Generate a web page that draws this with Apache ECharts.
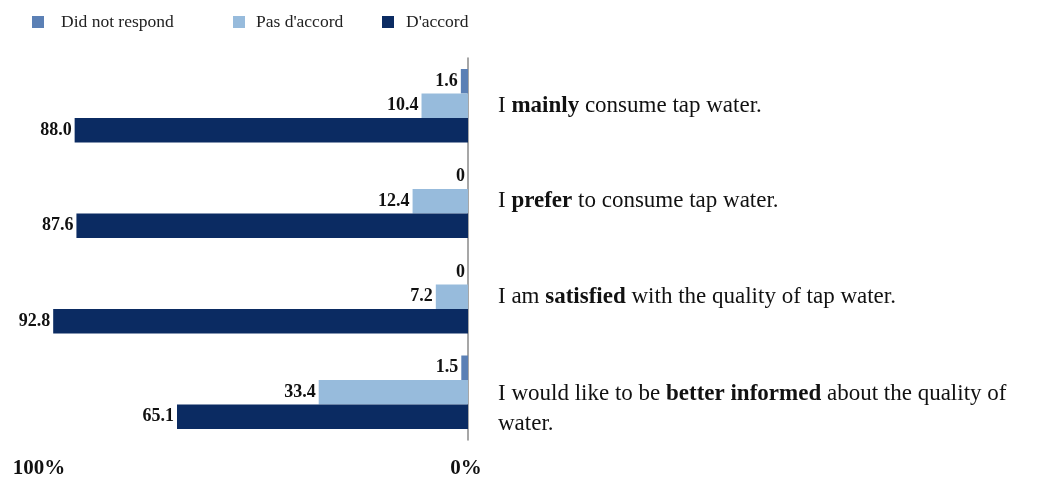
<!DOCTYPE html>
<html>
<head>
<meta charset="utf-8">
<script src="https://cdn.jsdelivr.net/npm/echarts@6/dist/echarts.min.js"></script>
<style>
  html, body { margin: 0; padding: 0; background: #ffffff; }
  #chart { width: 1044px; height: 491px; }
</style>
</head>
<body>
<div id="chart"></div>
<script>
// Survey statements, split into [before, bold keyword, after] segments
const statements = [
  ['I ', 'mainly', ' consume tap water.'],
  ['I ', 'prefer', ' to consume tap water.'],
  ['I am ', 'satisfied', ' with the quality of tap water.'],
  ['I would like to be ', 'better informed', ' about the quality of\nwater.']
];

// Share of answers, in percent
const didNotRespond = [1.6, 0, 0, 1.5];
const pasDaccord = [10.4, 12.4, 7.2, 33.4];
const daccord = [88.0, 87.6, 92.8, 65.1];

const seriesNames = ['Did not respond', "Pas d'accord", "D'accord"];
const axisTickLabels = { 0: '0%', 100: '100%' };

const FONT = '"Liberation Serif", "Times New Roman", serif';

function richStatement(parts) {
  const tail = parts[2].split('\n');
  let s = '{n|' + parts[0] + '}{b|' + parts[1] + '}{n|' + tail[0] + '}';
  for (let i = 1; i < tail.length; i++) s += '\n{n|' + tail[i] + '}';
  return s;
}

const categoryData = statements.map(function (p) {
  const multiLine = p[2].indexOf('\n') >= 0;
  const item = { value: richStatement(p) };
  if (multiLine) item.textStyle = { padding: [34, 0, 0, 0] };
  return item;
});

const valueLabel = {
  show: true,
  position: 'left',
  distance: 3,
  color: '#111',
  fontFamily: FONT,
  fontWeight: 'bold',
  fontSize: 18,
  formatter: function (p) { return p.value === 0 ? '0' : p.value.toFixed(1); }
};

function legendAt(left, name, padLeft, padTop) {
  return {
    left: left, top: 8,
    itemWidth: 12, itemHeight: 12,
    icon: 'rect',
    data: [name],
    selectedMode: false,
    textStyle: {
      fontFamily: FONT, fontSize: 17.5, color: '#222',
      padding: [padTop, 0, 0, padLeft]
    }
  };
}

const chart = echarts.init(document.getElementById('chart'), null, { renderer: 'canvas' });

chart.setOption({
  animation: false,
  backgroundColor: '#ffffff',
  legend: [
    legendAt(27, seriesNames[0], 12, 12),
    legendAt(228, seriesNames[1], 6, 0),
    legendAt(377, seriesNames[2], 7, 0)
  ],
  grid: { left: 21, right: 576, top: 58, bottom: 51, containLabel: false },
  xAxis: {
    type: 'value',
    inverse: true,
    min: 0, max: 100, interval: 100,
    splitLine: { show: false },
    axisLine: { show: false },
    axisTick: { show: false },
    axisLabel: {
      margin: 18,
      formatter: function (v) {
        return v === 100 ? '{far|' + axisTickLabels[v] + '}' : '{near|' + axisTickLabels[v] + '}';
      },
      rich: {
        far: { fontFamily: FONT, fontWeight: 'bold', fontSize: 21, color: '#111', padding: [0, 0, 0, 36] },
        near: { fontFamily: FONT, fontWeight: 'bold', fontSize: 21, color: '#111', padding: [0, 4, 0, 0] }
      }
    }
  },
  yAxis: {
    type: 'category',
    position: 'right',
    inverse: true,
    data: categoryData,
    axisLine: { show: true, lineStyle: { color: '#8a8a8a', width: 1.5 } },
    axisTick: { show: false },
    axisLabel: {
      margin: 30,
      align: 'left',
      color: '#111',
      rich: {
        n: { fontFamily: FONT, fontSize: 23, color: '#111', lineHeight: 30 },
        b: { fontFamily: FONT, fontSize: 23, fontWeight: 'bold', color: '#111', lineHeight: 30 }
      }
    }
  },
  series: [
    {
      name: seriesNames[0], type: 'bar', data: didNotRespond,
      barWidth: 24.5, barGap: '0%',
      itemStyle: { color: '#5b80b5' },
      label: valueLabel
    },
    {
      name: seriesNames[1], type: 'bar', data: pasDaccord,
      barWidth: 24.5, barGap: '0%',
      itemStyle: { color: '#97bbdc' },
      label: valueLabel
    },
    {
      name: seriesNames[2], type: 'bar', data: daccord,
      barWidth: 24.5, barGap: '0%',
      itemStyle: { color: '#0b2b62' },
      label: valueLabel
    }
  ]
});
</script>
</body>
</html>
